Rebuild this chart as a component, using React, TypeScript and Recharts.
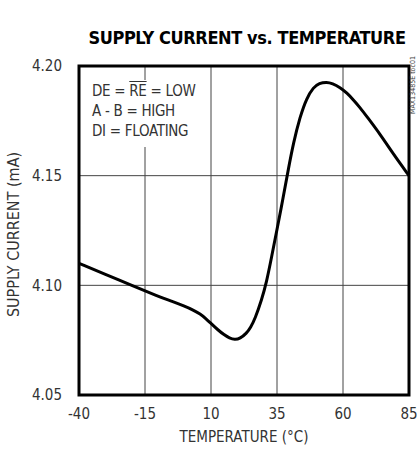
import React from 'react';
import { LineChart, Line, XAxis, YAxis, CartesianGrid, ReferenceArea } from 'recharts';

const temperatures = [
  -40, -30, -20, -10, -5, 0, 3, 6, 8, 10, 12.5, 15, 17, 19, 21, 23.5, 25, 26.7, 29.2, 31, 33, 35, 37.3, 39.3, 41.2,
  43.7, 46.2, 48.8, 51, 53.8, 56, 58.9, 61.5, 63.9, 66.5, 69, 74, 79, 85,
];
const supplyCurrent = [
  4.11, 4.105, 4.1, 4.095, 4.0928, 4.0905, 4.0889, 4.0869, 4.0849, 4.0826, 4.0798, 4.0774, 4.0759, 4.0752, 4.0757,
  4.0782, 4.0808, 4.0848, 4.0935, 4.1012, 4.1132, 4.1255, 4.1397, 4.153, 4.1648, 4.1768, 4.1853, 4.1903, 4.1922,
  4.1927, 4.1921, 4.1902, 4.1877, 4.1846, 4.181, 4.177, 4.169, 4.16, 4.15,
];
const xTicks = [-40, -15, 10, 35, 60, 85];
const yTicks = [4.05, 4.1, 4.15, 4.2];
const legendLines = ['A - B = HIGH', 'DI = FLOATING'];

const data = temperatures.map((t, i) => ({ t, i: supplyCurrent[i] }));

const narrow = '"Liberation Sans Narrow", "DejaVu Sans Condensed", "Arial Narrow", sans-serif';

export default function App() {
  return (
    <div style={{ position: 'absolute', left: 0, top: 0, width: 417, height: 456, background: '#fff', fontFamily: narrow }}>
      <div
        style={{
          position: 'absolute', left: 82, width: 330, top: 27, textAlign: 'center',
          fontSize: 18, fontWeight: 'bold', color: '#000', letterSpacing: -0.4,
        }}
      >
        SUPPLY CURRENT vs. TEMPERATURE
      </div>
      <LineChart width={417} height={456} data={data} margin={{ top: 66, right: 8, bottom: 0, left: 0 }}>
        <CartesianGrid stroke="#444" strokeWidth={1} horizontalValues={yTicks} verticalValues={xTicks} />
        <XAxis
          dataKey="t"
          type="number"
          domain={[-40, 85]}
          ticks={xTicks}
          height={61}
          axisLine={false}
          tickLine={false}
          tickMargin={7}
          tick={{ fill: '#333', fontSize: 15, fontFamily: narrow }}
        />
        <YAxis
          type="number"
          domain={[4.05, 4.2]}
          ticks={yTicks}
          width={79}
          axisLine={false}
          tickLine={false}
          tickMargin={11}
          tickFormatter={(v: number) => v.toFixed(2)}
          tick={{ fill: '#333', fontSize: 15, fontFamily: narrow }}
        />
        <ReferenceArea x1={-40} x2={85} y1={4.05} y2={4.2} fill="none" stroke="#000" strokeWidth={3} ifOverflow="visible" />
        <Line type="basis" dataKey="i" stroke="#000" strokeWidth={3} dot={false} isAnimationActive={false} />
      </LineChart>
      <div
        style={{
          position: 'absolute', left: 81, top: 80, width: 128, height: 67, background: '#fff',
          boxSizing: 'border-box', paddingLeft: 11, paddingTop: 1, fontSize: 15, lineHeight: '20px',
          color: '#333', letterSpacing: -0.3,
        }}
      >
        <div>
          DE = <span style={{ textDecoration: 'overline' }}>RE</span> = LOW
        </div>
        {legendLines.map((l) => (
          <div key={l}>{l}</div>
        ))}
      </div>
      <div
        style={{
          position: 'absolute', left: 413, top: 85, width: 0, height: 0, display: 'flex',
          alignItems: 'center', justifyContent: 'center',
        }}
      >
        <div style={{ transform: 'rotate(-90deg)', whiteSpace: 'nowrap', fontSize: 7, color: '#444' }}>
          MAX13485E toc01
        </div>
      </div>
      <div
        style={{
          position: 'absolute', left: 14, top: 234, width: 0, height: 0, display: 'flex',
          alignItems: 'center', justifyContent: 'center',
        }}
      >
        <div style={{ transform: 'rotate(-90deg)', whiteSpace: 'nowrap', fontSize: 16, color: '#333' }}>
          SUPPLY CURRENT (mA)
        </div>
      </div>
      <div
        style={{
          position: 'absolute', left: 79, width: 330, top: 428, textAlign: 'center', fontSize: 15, color: '#333',
        }}
      >
        TEMPERATURE (°C)
      </div>
    </div>
  );
}
